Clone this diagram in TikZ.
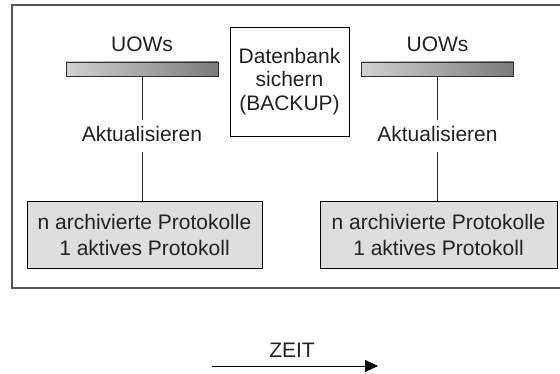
\documentclass[tikz,border=0pt]{standalone}
\usepackage{fontspec}
\setmainfont{Liberation Sans}
\usetikzlibrary{arrows.meta}
\definecolor{framegray}{HTML}{555555}
\definecolor{boxfill}{HTML}{DEDEDE}
\definecolor{txt}{HTML}{222222}
\tikzset{
  lbl/.style={font=\fontsize{21}{26}\selectfont, text=txt, inner sep=0pt},
  uowbar/.style={draw=black!80, line width=0.8pt, minimum width=152pt, minimum height=14pt, inner sep=0pt,
    left color=black!18, right color=black!52},
  actlbl/.style={lbl, minimum height=32pt, text height=15pt, text depth=4pt},
  logbox/.style={draw=black, line width=0.8pt, fill=boxfill, minimum height=67pt, inner sep=0pt,
    align=center, font=\fontsize{21}{26}\selectfont, text=txt},
  bkbox/.style={draw=black, line width=0.8pt, fill=white, minimum width=119pt, minimum height=109pt,
    inner sep=0pt, align=center, font=\fontsize{21}{23.5}\selectfont, text=txt},
  conn/.style={draw=black!85, line width=0.7pt}
}
\begin{document}
\begin{tikzpicture}[x=1pt,y=-1pt]
\useasboundingbox (0,0) rectangle (560,374);
\fill[white] (0,0) rectangle (560,374);
% outer frame
\draw[framegray, line width=1.6pt] (560,5) -- (12,5) -- (12,288) -- (560,288);

% left column
\node[lbl] (uow1) at (142,44) {UOWs};
\node[uowbar] (bar1) at (142,69) {};
\node[actlbl] (act1) at (142,136) {Aktualisieren};
\node[logbox, minimum width=235pt] (log1) at (144.5,234.5) {n archivierte Protokolle\\1 aktives Protokoll};
\draw[conn] (bar1.south) -- (act1.north);
\draw[conn] (act1.south) -- (log1.north -| act1.south);

% middle backup box
\node[bkbox] (bk) at (289.5,81.5) {Datenbank\\sichern\\(BACKUP)};

% right column
\node[lbl] (uow2) at (437.5,44) {UOWs};
\node[uowbar] (bar2) at (437.5,69) {};
\node[actlbl] (act2) at (437.5,136) {Aktualisieren};
\node[logbox, minimum width=237pt] (log2) at (438.5,234.5) {n archivierte Protokolle\\1 aktives Protokoll};
\draw[conn] (bar2.south) -- (act2.north);
\draw[conn] (act2.south) -- (log2.north -| act2.south);

% time arrow
\coordinate (t0) at (212,366);
\coordinate (t1) at (378,366);
\node[lbl] (zeit) at (292,350) {ZEIT};
\draw[black, line width=0.8pt, -{Triangle[length=13pt,width=12pt]}] (t0) -- (t1);
\end{tikzpicture}
\end{document}
